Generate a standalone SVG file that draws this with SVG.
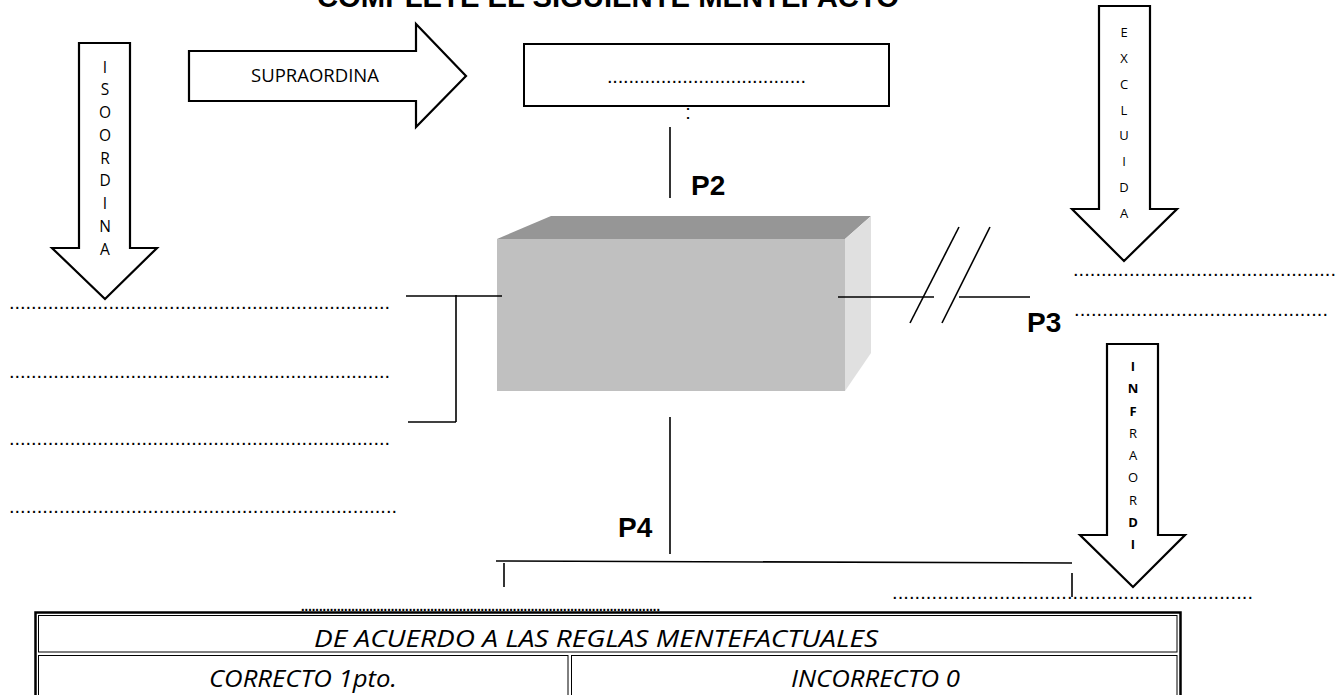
<svg xmlns="http://www.w3.org/2000/svg" width="1344" height="695" viewBox="0 0 1344 695">
<style>
.arrow{fill:#fff;stroke:#000;stroke-width:2.2;stroke-linejoin:miter}
.ln{stroke:#000;stroke-width:1.6;fill:none}
.dots{font-family:"Liberation Sans",Arial,sans-serif;font-size:20px;fill:#000}
.lt{font-family:"Open Sans","Liberation Sans",sans-serif;fill:#000;text-anchor:middle}
.pl{font-family:"Liberation Sans",Arial,sans-serif;font-weight:bold;font-size:28px;fill:#000}
.tt{font-family:"Open Sans","Liberation Sans",sans-serif;font-style:italic;font-size:24px;fill:#000}
</style>
<rect width="1344" height="695" fill="#fff"/>
<text id="title" x="608" y="7" text-anchor="middle" font-family="Liberation Sans, Arial, sans-serif" font-weight="bold" font-size="29" textLength="582" lengthAdjust="spacingAndGlyphs">COMPLETE EL SIGUIENTE MENTEFACTO</text>

<g id="isoordina">
<path class="arrow" d="M79,43 H130 V248 H157 L105,299 L52,248 H79 Z"/>
<g class="lt" font-size="15.5">
<text x="105" y="72.5">I</text><text x="105" y="95.2">S</text><text x="105" y="118">O</text><text x="105" y="140.7">O</text><text x="105" y="163.5">R</text><text x="105" y="186.2">D</text><text x="105" y="209">I</text><text x="105" y="231.7">N</text><text x="105" y="254.5">A</text>
</g>
</g>

<g id="supraordina">
<path class="arrow" d="M189,51 H416 V24 L466,76 L416,127 V101 H189 Z"/>
<text class="lt" x="315" y="82" font-size="18" textLength="128" lengthAdjust="spacingAndGlyphs">SUPRAORDINA</text>
</g>

<g id="supra-box">
<rect x="524" y="44" width="365" height="62" fill="#fff" stroke="#000" stroke-width="2"/>
<text class="dots" x="607" y="83" font-size="18" textLength="199" lengthAdjust="spacing">.....................................</text>
<text class="dots" x="688" y="118.5" text-anchor="middle">:</text>
</g>

<g id="excluida">
<path class="arrow" d="M1099,6 H1150 V209 H1177 L1124,261 L1072,209 H1099 Z"/>
<g class="lt" font-size="13">
<text x="1124" y="37">E</text><text x="1124" y="62.9">X</text><text x="1124" y="88.7">C</text><text x="1124" y="114.6">L</text><text x="1124" y="140.4">U</text><text x="1124" y="166.3">I</text><text x="1124" y="192.1">D</text><text x="1124" y="218">A</text>
</g>
</g>

<g id="infraordi">
<path class="arrow" d="M1107,344 H1158 V535 H1185 L1133,587 L1080,535 H1107 Z"/>
<g class="lt" font-size="13">
<text x="1133" y="371" font-weight="bold">I</text><text x="1133" y="393.2" font-weight="bold">N</text><text x="1133" y="415.5" font-weight="bold">F</text><text x="1133" y="437.7">R</text><text x="1133" y="460">A</text><text x="1133" y="482.2">O</text><text x="1133" y="504.5">R</text><text x="1133" y="526.7" font-weight="bold">D</text><text x="1133" y="549" font-weight="bold">I</text>
</g>
</g>

<g id="concept">
<polygon points="497,239 551,216 871,216 845,239" fill="#969696"/>
<polygon points="845,239 871,216 871,353 845,391" fill="#e0e0e0"/>
<rect x="497" y="239" width="348" height="152" fill="#c0c0c0"/>
</g>

<g id="connectors">
<path class="ln" d="M670,127 V198"/>
<path class="ln" d="M670,417 V554"/>
<path class="ln" d="M496,561 L1072,563"/>
<path class="ln" d="M504,563 V587"/>
<path class="ln" d="M1072,573 V597"/>
<path class="ln" d="M406,296 H502"/>
<path class="ln" d="M456,295 V422"/>
<path class="ln" d="M408,422 H456"/>
<path class="ln" d="M838,297 H934"/>
<path class="ln" d="M959,297 H1030"/>
<path class="ln" d="M910,323 L959,227"/>
<path class="ln" d="M942,323 L990,227"/>
</g>

<g id="labels">
<text class="pl" x="691" y="195">P2</text>
<text class="pl" x="1027" y="332">P3</text>
<text class="pl" x="618" y="537">P4</text>
</g>

<g id="blanks">
<text class="dots" x="9" y="309" textLength="381" lengthAdjust="spacing">.....................................................................</text>
<text class="dots" x="9" y="378" textLength="381" lengthAdjust="spacing">.....................................................................</text>
<text class="dots" x="9" y="445" textLength="381" lengthAdjust="spacing">.....................................................................</text>
<text class="dots" x="9" y="513" textLength="388" lengthAdjust="spacing">......................................................................</text>
<text class="dots" x="1073" y="276" textLength="263" lengthAdjust="spacing">...............................................</text>
<text class="dots" x="1074" y="316" textLength="254" lengthAdjust="spacing">.............................................</text>
<text class="dots" x="892" y="599" textLength="361" lengthAdjust="spacing">................................................................</text>
<text class="dots" x="300" y="611" font-size="13" textLength="361" lengthAdjust="spacing">....................................................................................................</text>
</g>

<g id="table">
<rect x="35.5" y="612.5" width="1145" height="110" fill="none" stroke="#000" stroke-width="2.5"/>
<rect x="38.5" y="615.5" width="1138.5" height="36.5" fill="none" stroke="#000" stroke-width="1"/>
<rect x="38.5" y="655.5" width="529.5" height="60" fill="none" stroke="#000" stroke-width="1"/>
<rect x="571.5" y="655.5" width="605.5" height="60" fill="none" stroke="#000" stroke-width="1"/>
<text class="tt" x="314" y="647" textLength="564" lengthAdjust="spacingAndGlyphs">DE ACUERDO A LAS REGLAS MENTEFACTUALES</text>
<text class="tt" x="209" y="687" textLength="188" lengthAdjust="spacingAndGlyphs">CORRECTO 1pto.</text>
<text class="tt" x="791" y="687" textLength="169" lengthAdjust="spacingAndGlyphs">INCORRECTO 0</text>
</g>
</svg>
